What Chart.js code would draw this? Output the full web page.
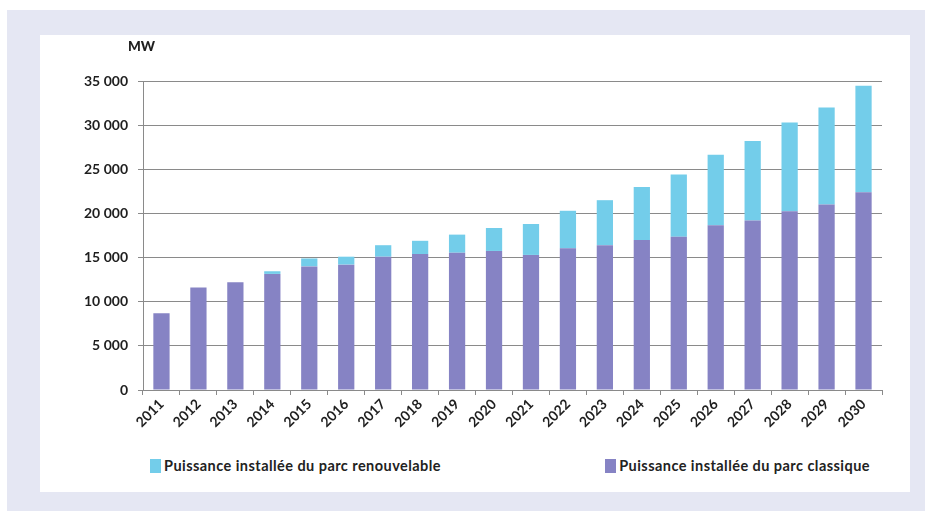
<!DOCTYPE html>
<html lang="fr">
<head>
<meta charset="utf-8">
<title>Puissance installée</title>
<script src="https://cdn.jsdelivr.net/npm/chart.js@4/dist/chart.umd.min.js"></script>
<style>
  html, body { margin: 0; padding: 0; background: #ffffff; }
  body { width: 925px; height: 511px; position: relative; overflow: hidden; font-family: Lato, "Open Sans", sans-serif; }
  #frame { position: absolute; left: 7px; top: 10px; width: 918px; height: 510px; background: #e5e7f3; }
  #panel { position: absolute; left: 40px; top: 35px; width: 870px; height: 457px; background: #ffffff; }
  #wrap { position: absolute; left: 40px; top: 35px; width: 870px; height: 420px; }
  #legend { position: absolute; left: 150px; top: 457px; width: 720px; display: flex; justify-content: space-between; }
  .item { display: flex; align-items: center; font-size: 14.5px; letter-spacing: 0.45px; font-weight: 700; color: #222; }
  .swatch { width: 11px; height: 14px; margin-right: 3px; }
</style>
</head>
<body>
<div id="frame"></div>
<div id="panel"></div>
<div id="wrap"><canvas id="chart" width="870" height="420"></canvas></div>
<div id="legend"></div>
<script>
const years = ['2011','2012','2013','2014','2015','2016','2017','2018','2019','2020',
               '2021','2022','2023','2024','2025','2026','2027','2028','2029','2030'];
const classique = [8700, 11600, 12200, 13150, 14000, 14200, 15100, 15400, 15550, 15750,
                   15300, 16050, 16400, 17000, 17350, 18650, 19200, 20250, 21000, 22400];
const renouvelable = [0, 0, 0, 300, 900, 900, 1300, 1500, 2050, 2600,
                      3500, 4250, 5100, 6000, 7050, 8000, 9000, 10050, 11000, 12050];
const yTicks = [0, 5000, 10000, 15000, 20000, 25000, 30000, 35000];
const unitLabel = 'MW';
const labelClassique = 'Puissance installée du parc classique';
const labelRenouvelable = 'Puissance installée du parc renouvelable';

const colClassique = '#8683c4';
const colRenouvelable = '#73cdea';
const gridCol = '#8a8a8a';
const textCol = '#1e1e1e';
const fontFamily = 'Lato, "Open Sans", sans-serif';

function frNumber(v) {
  return String(v).replace(/\B(?=(\d{3})+(?!\d))/g, '\u00a0');
}

// draws the unit label above the value axis
const unitPlugin = {
  id: 'unitLabel',
  afterDraw(chart) {
    const ctx = chart.ctx;
    const a = chart.chartArea;
    ctx.save();
    ctx.font = '900 13.5px ' + fontFamily;
    ctx.fillStyle = textCol;
    ctx.textAlign = 'left';
    ctx.textBaseline = 'middle';
    ctx.fillText(unitLabel, a.left - 15, 12);
    ctx.restore();
  }
};

const chart = new Chart(document.getElementById('chart'), {
  type: 'bar',
  data: {
    labels: years,
    datasets: [
      { label: labelClassique, data: classique, backgroundColor: colClassique, borderWidth: 0,
        barPercentage: 0.44, categoryPercentage: 1 },
      { label: labelRenouvelable, data: renouvelable, backgroundColor: colRenouvelable, borderWidth: 0,
        barPercentage: 0.44, categoryPercentage: 1 }
    ]
  },
  options: {
    responsive: false,
    animation: false,
    devicePixelRatio: 1,
    layout: { padding: { left: 0, right: 28, top: 46, bottom: 0 } },
    plugins: { legend: { display: false }, tooltip: { enabled: false } },
    scales: {
      x: {
        stacked: true,
        afterFit(s) { s.height = 65; },
        grid: { display: true, drawOnChartArea: false, drawTicks: true, tickLength: 5, color: gridCol, offset: true },
        border: { display: true, color: gridCol, width: 1 },
        ticks: {
          minRotation: 45, maxRotation: 45, autoSkip: false, padding: 1,
          color: textCol, font: { family: fontFamily, size: 14, weight: '700' }
        }
      },
      y: {
        stacked: true,
        min: 0, max: 35000,
        afterFit(s) { s.width = 103; },
        afterBuildTicks(s) { s.ticks = yTicks.map(v => ({ value: v })); },
        grid: { color: gridCol, lineWidth: 1, drawTicks: true, tickLength: 5 },
        border: { display: true, color: gridCol, width: 1 },
        ticks: {
          padding: 10,
          color: textCol, font: { family: fontFamily, size: 14, weight: '700' },
          callback: v => frNumber(v)
        }
      }
    }
  },
  plugins: [unitPlugin]
});

// legend built from the datasets, renewable first
const legend = document.getElementById('legend');
chart.data.datasets.slice().reverse().forEach(ds => {
  const item = document.createElement('div');
  item.className = 'item';
  const sw = document.createElement('span');
  sw.className = 'swatch';
  sw.style.background = ds.backgroundColor;
  const tx = document.createElement('span');
  tx.textContent = ds.label;
  item.appendChild(sw);
  item.appendChild(tx);
  legend.appendChild(item);
});
</script>
</body>
</html>
